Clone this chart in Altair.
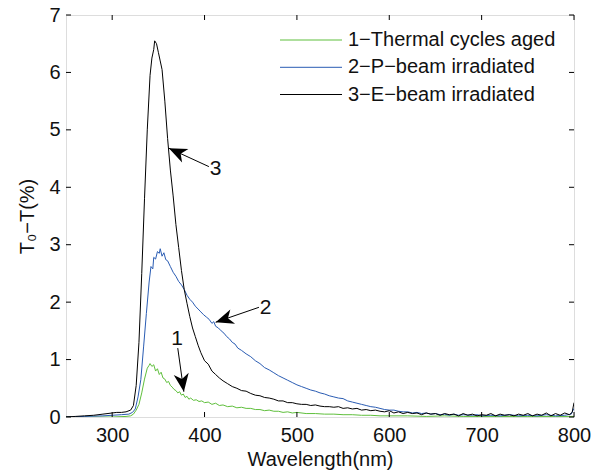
import altair as alt
import pandas as pd

W, H = 508, 402
FONT = "Liberation Sans"
FS = 20

names = ["1−Thermal cycles aged", "2−P−beam irradiated", "3−E−beam irradiated"]
colors = ["#5fbf3c", "#2a5cb3", "#000000"]

# Series 1 (green)
wl1 = [250, 300, 315, 320, 323, 326, 329, 332, 335, 338, 340, 341, 343, 345, 347, 349, 351, 353,
       355, 357, 359, 361, 363, 365, 367, 369, 371, 373, 375, 377, 379, 381, 383, 385, 388, 391,
       394, 397, 400, 404, 408, 412, 416, 420, 425, 430, 435, 440, 445, 450, 455, 460, 465, 470,
       475, 480, 485, 490, 495, 500, 510, 520, 530, 540, 550, 560, 570, 580, 590, 600, 620, 640,
       660, 680, 700, 720, 750, 780, 800]
v1 = [0.00, 0.00, 0.01, 0.02, 0.05, 0.12, 0.22, 0.42, 0.66, 0.85, 0.90, 0.93, 0.88, 0.91, 0.80, 0.84,
      0.74, 0.78, 0.68, 0.66, 0.60, 0.62, 0.55, 0.52, 0.48, 0.46, 0.42, 0.44, 0.38, 0.40, 0.34, 0.36,
      0.31, 0.33, 0.29, 0.30, 0.27, 0.28, 0.25, 0.26, 0.22, 0.24, 0.20, 0.21, 0.18, 0.19, 0.16, 0.17,
      0.15, 0.15, 0.13, 0.13, 0.11, 0.12, 0.10, 0.10, 0.08, 0.09, 0.07, 0.08, 0.06, 0.06, 0.05, 0.05,
      0.04, 0.04, 0.03, 0.03, 0.02, 0.02, 0.02, 0.01, 0.02, 0.01, 0.01, 0.01, 0.01, 0.01, 0.01]

# Series 2 (blue)
wl2 = [250, 270, 290, 300, 310, 318, 322, 325, 328, 331, 334, 337, 340, 342, 344, 345, 347, 349,
       351, 352, 354, 356, 358, 360, 363, 366, 369, 372, 375, 378, 381, 384, 387, 390, 393, 396,
       399, 402, 405, 408, 410, 412, 415, 418, 421, 424, 427, 430, 433, 436, 440, 445, 450, 455,
       460, 465, 470, 475, 480, 485, 490, 495, 500, 505, 510, 515, 520, 525, 530, 535, 540, 545,
       550, 555, 560, 565, 570, 575, 580, 585, 590, 595, 600, 605, 610, 615, 620, 625, 630, 635,
       640, 645, 650, 655, 660, 665, 670, 675, 680, 690, 695, 700, 710, 720, 730, 740, 750, 760,
       770, 780, 790, 797, 800]
v2 = [0.00, 0.01, 0.02, 0.03, 0.04, 0.05, 0.08, 0.14, 0.35, 0.65, 1.22, 1.80, 2.35, 2.62, 2.58, 2.78,
      2.75, 2.88, 2.85, 2.93, 2.80, 2.86, 2.74, 2.72, 2.62, 2.52, 2.45, 2.36, 2.30, 2.22, 2.12, 2.05,
      2.00, 1.93, 1.88, 1.83, 1.78, 1.74, 1.70, 1.63, 1.66, 1.58, 1.55, 1.50, 1.46, 1.40, 1.36, 1.30,
      1.27, 1.20, 1.16, 1.10, 1.05, 0.98, 0.93, 0.86, 0.82, 0.77, 0.72, 0.68, 0.64, 0.60, 0.56, 0.53,
      0.50, 0.47, 0.45, 0.42, 0.40, 0.37, 0.35, 0.33, 0.32, 0.28, 0.26, 0.24, 0.22, 0.20, 0.18, 0.17,
      0.15, 0.13, 0.12, 0.12, 0.10, 0.09, 0.09, 0.07, 0.08, 0.06, 0.07, 0.05, 0.06, 0.04, 0.05, 0.03,
      0.05, 0.03, 0.04, 0.03, 0.04, 0.02, 0.03, 0.02, 0.04, 0.02, 0.03, 0.02, 0.04, 0.02, 0.03, 0.05,
      0.15]

# Series 3 (black)
wl3 = [250, 260, 270, 280, 290, 300, 305, 310, 315, 320, 323, 326, 329, 332, 335, 338, 341, 343,
       345, 346, 348, 350, 352, 354, 357, 360, 363, 366, 369, 372, 375, 378, 381, 384, 387, 390,
       393, 396, 400, 404, 408, 412, 416, 420, 425, 430, 435, 440, 445, 450, 455, 460, 465, 470,
       475, 480, 485, 490, 495, 500, 505, 510, 515, 520, 525, 530, 535, 540, 545, 550, 555, 560,
       565, 570, 575, 580, 585, 590, 595, 600, 605, 610, 615, 620, 625, 630, 635, 640, 645, 650,
       655, 660, 665, 670, 675, 680, 685, 690, 695, 700, 705, 710, 715, 720, 725, 730, 735, 740,
       745, 750, 755, 760, 765, 770, 775, 780, 785, 790, 795, 798, 800]
v3 = [0.00, 0.01, 0.02, 0.03, 0.05, 0.07, 0.08, 0.08, 0.09, 0.12, 0.20, 0.55, 1.30, 2.50, 3.80, 5.00,
      5.95, 6.25, 6.40, 6.55, 6.50, 6.35, 6.20, 6.05, 5.50, 4.85, 4.30, 3.85, 3.35, 2.95, 2.55, 2.22,
      1.98, 1.75, 1.55, 1.40, 1.25, 1.12, 0.98, 0.92, 0.80, 0.74, 0.68, 0.63, 0.58, 0.53, 0.50, 0.46,
      0.45, 0.41, 0.38, 0.37, 0.34, 0.33, 0.31, 0.28, 0.28, 0.25, 0.25, 0.23, 0.22, 0.22, 0.20, 0.21,
      0.19, 0.18, 0.18, 0.17, 0.18, 0.15, 0.16, 0.14, 0.15, 0.12, 0.13, 0.11, 0.12, 0.10, 0.09, 0.11,
      0.07, 0.09, 0.06, 0.08, 0.06, 0.07, 0.04, 0.07, 0.05, 0.06, 0.03, 0.06, 0.04, 0.05, 0.02, 0.06,
      0.03, 0.05, 0.02, 0.04, 0.03, 0.06, 0.02, 0.05, 0.03, 0.04, 0.02, 0.05, 0.03, 0.06, 0.02, 0.05,
      0.03, 0.07, 0.02, 0.06, 0.03, 0.07, 0.04, 0.08, 0.25]

x_ticks = [300, 400, 500, 600, 700, 800]
y_ticks = [0, 1, 2, 3, 4, 5, 6, 7]

# Annotation arrows (data units)
arrow_label = ["1", "2", "3"]
arrow_text_x = [370.3, 466.1, 412.0]
arrow_text_y = [1.36, 1.90, 4.31]
arrow_tail_x = [371.0, 458.9, 404.7]
arrow_tail_y = [1.20, 1.91, 4.36]
arrow_tip_x = [377.6, 412.0, 361.4]
arrow_tip_y = [0.44, 1.65, 4.68]
arrow_angle = [171.6, 251.6, 294.7]

ARROW_PATH = "M0,0 L0.42,1 L0,0.72 L-0.42,1 Z"

rows = []
for n, w, v in zip(names, [wl1, wl2, wl3], [v1, v2, v3]):
    for a, b in zip(w, v):
        rows.append({"wl": a, "val": b, "series": n})
df = pd.DataFrame(rows)

xs = alt.Scale(domain=[250, 800], nice=False, zero=False)
ys = alt.Scale(domain=[0, 7], nice=False)

x_axis = alt.Axis(
    values=x_ticks, title="Wavelength(nm)", ticks=False, domain=False, grid=False,
    labelFontSize=FS, titleFontSize=FS, labelFont=FONT, titleFont=FONT,
    labelColor="#111111", titleColor="#111111", titleFontWeight="normal",
    labelPadding=8, titlePadding=4, labelOverlap=False, labelFlush=False, format="d")
y_axis = alt.Axis(
    values=y_ticks, title="T₀−T(%)", ticks=False, domain=False, grid=False,
    labelFontSize=FS, titleFontSize=FS, labelFont=FONT, titleFont=FONT,
    labelColor="#111111", titleColor="#111111", titleFontWeight="normal",
    labelPadding=6, titlePadding=11, labelOverlap=False, labelFlush=False, format="d")

lines = alt.Chart(df).mark_line(strokeWidth=1, clip=True).encode(
    x=alt.X("wl:Q", scale=xs, axis=x_axis, title="Wavelength(nm)"),
    y=alt.Y("val:Q", scale=ys, axis=y_axis, title="T₀−T(%)"),
    color=alt.Color("series:N", scale=alt.Scale(domain=names, range=colors), legend=None),
)

xt = pd.DataFrame({"t": x_ticks})
yt = pd.DataFrame({"t": y_ticks})
TL = 5
tick_b = alt.Chart(xt).mark_rule(color="black", strokeWidth=1).encode(
    x=alt.X("t:Q", scale=xs), y=alt.value(H), y2=alt.value(H - TL))
tick_t = alt.Chart(xt).mark_rule(color="black", strokeWidth=1).encode(
    x=alt.X("t:Q", scale=xs), y=alt.value(0), y2=alt.value(TL))
tick_l = alt.Chart(yt).mark_rule(color="black", strokeWidth=1).encode(
    y=alt.Y("t:Q", scale=ys), x=alt.value(0), x2=alt.value(TL))
tick_r = alt.Chart(yt).mark_rule(color="black", strokeWidth=1).encode(
    y=alt.Y("t:Q", scale=ys), x=alt.value(W), x2=alt.value(W - TL))

adf = pd.DataFrame({
    "label": arrow_label, "tx": arrow_text_x, "ty": arrow_text_y,
    "x0": arrow_tail_x, "y0": arrow_tail_y, "x1": arrow_tip_x, "y1": arrow_tip_y,
    "ang": arrow_angle,
})
arrow_lines = alt.Chart(adf).mark_rule(color="black", strokeWidth=1).encode(
    x=alt.X("x0:Q", scale=xs), y=alt.Y("y0:Q", scale=ys),
    x2="x1:Q", y2="y1:Q")
arrow_heads = alt.Chart(adf).mark_point(
    shape=ARROW_PATH, filled=True, fill="black", opacity=1, size=1296).encode(
    x=alt.X("x1:Q", scale=xs), y=alt.Y("y1:Q", scale=ys),
    angle=alt.Angle("ang:Q", scale=None))
arrow_text = alt.Chart(adf).mark_text(
    font=FONT, fontSize=21, color="#111111", align="center", baseline="middle").encode(
    x=alt.X("tx:Q", scale=xs), y=alt.Y("ty:Q", scale=ys), text="label:N")

legend_layers = []
LX0, LX1, LTX = 214, 276, 282
LY = [25, 52.3, 79.5]
for i in range(3):
    ldf = pd.DataFrame({"name": [names[i]]})
    legend_layers.append(
        alt.Chart(ldf).mark_rule(strokeWidth=1, color=colors[i]).encode(
            x=alt.value(LX0), x2=alt.value(LX1), y=alt.value(LY[i])))
    legend_layers.append(
        alt.Chart(ldf).mark_text(font=FONT, fontSize=FS, color="#111111", align="left",
                                 baseline="middle").encode(
            x=alt.value(LTX), y=alt.value(LY[i]), text="name:N"))

chart = alt.layer(
    lines, tick_b, tick_t, tick_l, tick_r, arrow_lines, arrow_heads, arrow_text, *legend_layers
).properties(
    width=W, height=H,
    padding={"left": 66, "top": 15, "right": 18, "bottom": 55},
    autosize=alt.AutoSizeParams(type="none"),
).configure_view(stroke="black", strokeWidth=1).configure(background="white")

chart.save("out.html", embed_options={"renderer": "svg", "actions": False})
